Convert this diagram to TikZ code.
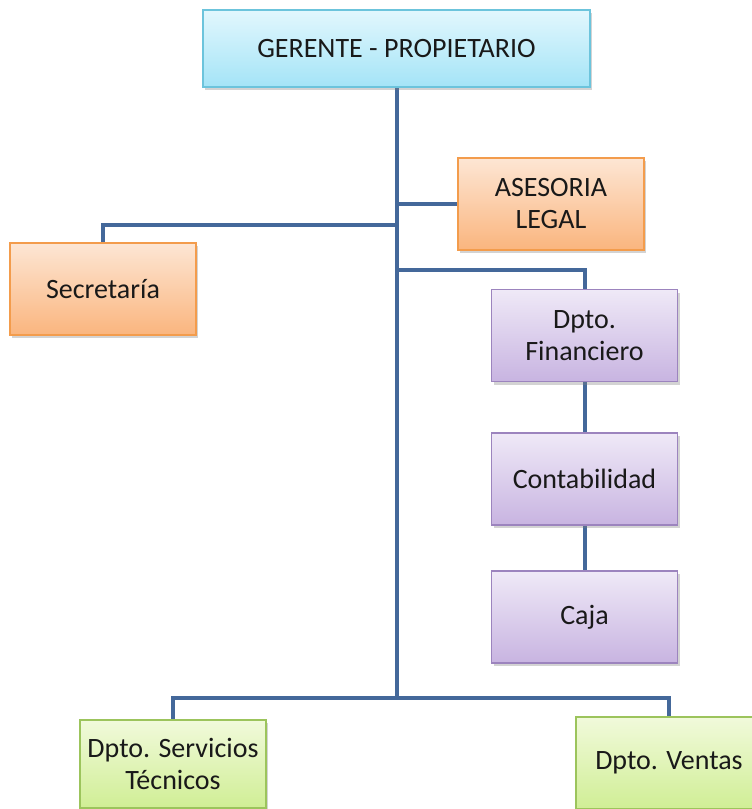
\documentclass[tikz,border=0pt]{standalone}
\usepackage{fontspec}
\setmainfont{Carlito}
\usetikzlibrary{shadows,backgrounds}
\definecolor{linkblue}{HTML}{44689A}
\definecolor{cyanA}{HTML}{E2F7FD}
\definecolor{cyanB}{HTML}{A4E4F7}
\definecolor{cyanD}{HTML}{6CC4DC}
\definecolor{orA}{HTML}{FDE6D4}
\definecolor{orB}{HTML}{FAB57E}
\definecolor{orD}{HTML}{F39C4C}
\definecolor{puA}{HTML}{EFE9F7}
\definecolor{puB}{HTML}{C8B4E1}
\definecolor{puD}{HTML}{9C84BE}
\definecolor{grA}{HTML}{F1FADB}
\definecolor{grB}{HTML}{D0EE95}
\definecolor{grD}{HTML}{9CC45C}
\tikzset{
	unit/.style={rectangle,line width=1.5pt,minimum width=186pt,minimum height=92pt,
		align=center,text=black!90,font=\fontsize{28}{32}\selectfont,
		drop shadow={shadow xshift=2pt,shadow yshift=-3pt,opacity=0.35}},
	boss/.style={unit,draw=cyanD,top color=cyanA,bottom color=cyanB},
	staff/.style={unit,draw=orD,top color=orA,bottom color=orB},
	money/.style={unit,draw=puD,top color=puA,bottom color=puB},
	dept/.style={unit,draw=grD,top color=grA,bottom color=grB},
	link/.style={draw=linkblue,line width=4pt}
}
\begin{document}
\begin{tikzpicture}[x=1pt,y=-1pt]
	\useasboundingbox (0,0) rectangle (752,809);
	\clip (0,0) rectangle (752,809);
	\node[boss,minimum width=387pt,minimum height=77pt] (gerente) at (396.5,48.5) {GERENTE - PROPIETARIO};
	\node[staff] (legal) at (551,204) {ASESORIA\\LEGAL};
	\node[staff] (secre) at (103,289) {Secretaría};
	\node[money] (finan) at (584.5,335.5) {Dpto.\\Financiero};
	\node[money] (conta) at (584.5,479) {Contabilidad};
	\node[money] (caja) at (584.5,617) {Caja};
	\node[dept,minimum height=88pt] (servi) at (173,764) {Dpto. Servicios\\Técnicos};
	\node[dept] (ventas) at (669,763) {Dpto. Ventas};
	\coordinate (bot) at (396.5,698);
	\begin{scope}[on background layer]
		\draw[link] (gerente) -- (bot);
		\draw[link] (bot |- legal) -- (legal);
		\draw[link] (396.5,225) -| (secre);
		\draw[link] (396.5,270) -| (finan);
		\draw[link] (finan) -- (conta) -- (caja);
		\draw[link] (servi) |- (bot) -| (ventas);
	\end{scope}
\end{tikzpicture}
\end{document}
